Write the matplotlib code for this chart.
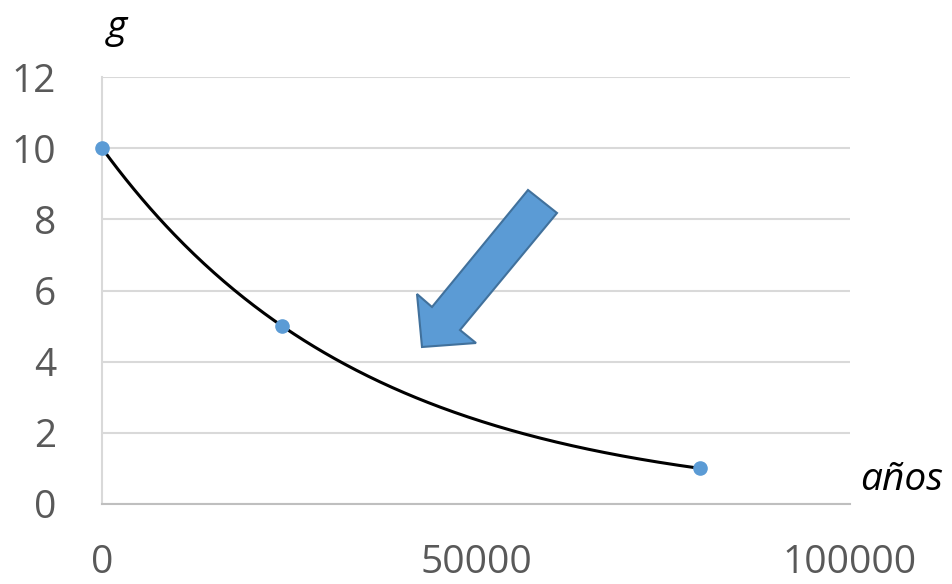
import matplotlib
matplotlib.use("Agg")
import matplotlib.pyplot as plt
import numpy as np
from matplotlib.patches import Polygon

plt.rcParams["font.family"] = ["Open Sans", "DejaVu Sans"]

# data
anos = [0, 24100, 80000]
gramos = [10, 5, 1]
x_ticks = [0, 50000, 100000]
y_ticks = [0, 2, 4, 6, 8, 10, 12]

W, H = 953, 584
fig = plt.figure(figsize=(W / 100, H / 100), dpi=100)
ax = fig.add_axes([102 / W, 1 - 504 / H, (850 - 102) / W, (504 - 77) / H])

# exponential trendline through the points (as in the spreadsheet)
b, lna = np.polyfit(anos, np.log(gramos), 1)
xs = np.linspace(min(anos), max(anos), 300)
ax.plot(xs, np.exp(lna) * np.exp(b * xs), color="black", lw=2.2, zorder=3)
ax.plot(anos, gramos, "o", color="#5B9BD5", ms=9.5, zorder=4, clip_on=False)

ax.set_xlim(0, 100000)
ax.set_ylim(0, 12)
ax.set_xticks(x_ticks)
ax.set_yticks(y_ticks)
ax.tick_params(axis="both", length=0, labelsize=28, labelcolor="#595959")
ax.tick_params(axis="x", pad=29)
ax.tick_params(axis="y", pad=33)
ax.yaxis.grid(True, color="#D9D9D9", lw=1.5)
ax.set_axisbelow(True)
for s in ["top", "right"]:
    ax.spines[s].set_visible(False)
ax.spines["left"].set_color("#D9D9D9")
ax.spines["left"].set_linewidth(1.5)
ax.spines["bottom"].set_color("#BFBFBF")
ax.spines["bottom"].set_linewidth(1.5)

fig.text(117 / W, 1 - 28 / H, "g", fontsize=28, style="italic", ha="center", va="center")
fig.text(902 / W, 1 - 480 / H, "años", fontsize=28, style="italic", ha="center", va="center")

# block arrow
pts = [(528, 190), (557, 213), (460, 330), (476, 343), (422, 347), (417, 294), (432, 307)]
arrow = Polygon([(px / W, 1 - py / H) for px, py in pts], closed=True,
                facecolor="#5B9BD5", edgecolor="#41719C", lw=1.5, transform=fig.transFigure)
fig.add_artist(arrow)

fig.savefig("out.png", dpi=100)
